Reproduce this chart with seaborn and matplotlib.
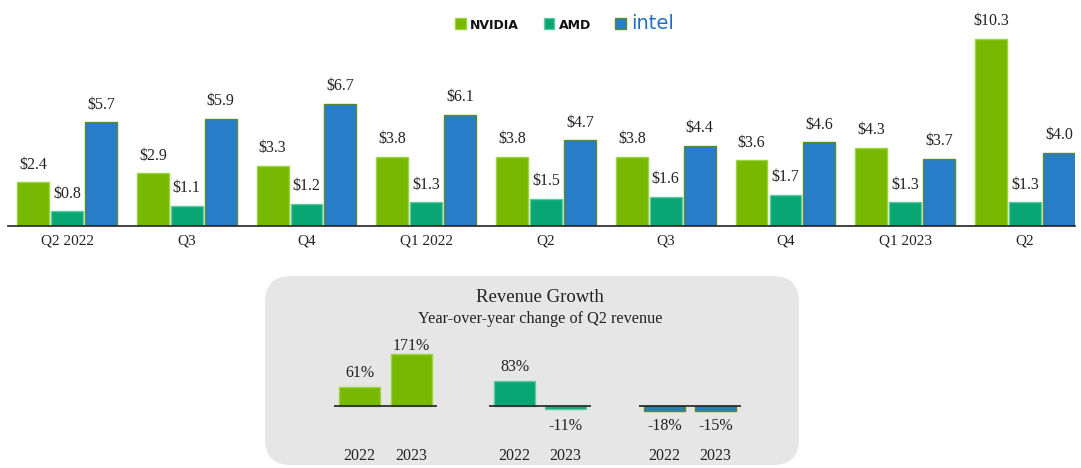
import numpy as np
import pandas as pd
import matplotlib
matplotlib.use("Agg")
import matplotlib.pyplot as plt
import seaborn as sns
from matplotlib.patches import FancyBboxPatch, Patch
from matplotlib.transforms import IdentityTransform

# ---------------- data ----------------
quarters = ["Q2 2022", "Q3", "Q4", "Q1 2022", "Q2", "Q3", "Q4", "Q1 2023", "Q2"]
nvidia = [2.4, 2.9, 3.3, 3.8, 3.8, 3.8, 3.6, 4.3, 10.3]
amd = [0.8, 1.1, 1.2, 1.3, 1.5, 1.6, 1.7, 1.3, 1.3]
intel = [5.7, 5.9, 6.7, 6.1, 4.7, 4.4, 4.6, 3.7, 4.0]
companies = ["NVIDIA", "AMD", "intel"]

growth_years = ["2022", "2023"]
growth_nvidia = [61, 171]
growth_amd = [83, -11]
growth_intel = [-18, -15]

colors = {"NVIDIA": "#76b900", "AMD": "#07a673", "intel": "#277dc8"}
edges = {"NVIDIA": "#9bd640", "AMD": "#5fc9a2", "intel": "#5a8a2a"}

sns.set_theme(style="white")
plt.rcParams["font.family"] = ["Liberation Serif", "DejaVu Serif"]

W, H = 1081, 468
fig = plt.figure(figsize=(W / 100, H / 100), dpi=100)
fig.patch.set_facecolor("white")


def px_axes(x0, y0, x1, y1):
    return fig.add_axes([x0 / W, 1 - y1 / H, (x1 - x0) / W, (y1 - y0) / H])


# ---------------- main chart ----------------
rows = []
for i, q in enumerate(quarters):
    for c, vals in zip(companies, [nvidia, amd, intel]):
        rows.append({"pos": i, "company": c, "revenue": vals[i]})
df = pd.DataFrame(rows)

ax = px_axes(8, 30, 1075, 226)
sns.barplot(data=df, x="pos", y="revenue", hue="company", hue_order=companies,
            palette=colors, width=0.85, gap=0.06, ax=ax, legend=False,
            saturation=1, errorbar=None)
for cont, c in zip(ax.containers, companies):
    for bar in cont:
        bar.set_edgecolor(edges[c])
        bar.set_linewidth(1.0)
    ax.bar_label(cont, labels=[f"${v:.1f}" for v in cont.datavalues],
                 padding=7, fontsize=11.5, color="#222222")
ax.set_xlim(-0.493, 8.418)
ax.set_ylim(0, 10.77)
ax.set_xticks(range(len(quarters)))
ax.set_xticklabels(quarters, fontsize=11, color="#222222")
ax.tick_params(axis="x", length=0, pad=6)
ax.set_yticks([])
ax.set_xlabel("")
ax.set_ylabel("")
for s in ["top", "right", "left"]:
    ax.spines[s].set_visible(False)
ax.spines["bottom"].set_color("#222222")
ax.spines["bottom"].set_linewidth(1.2)
ax.set_facecolor("none")

# legend
handles = [Patch(facecolor=colors[c], edgecolor=edges[c]) for c in companies]
leg = fig.legend(handles, companies, loc="upper center", bbox_to_anchor=(0.522, 1.0),
                 ncol=3, frameon=False, handlelength=0.7, handleheight=0.7,
                 handletextpad=0.3, columnspacing=1.6, fontsize=11)
for t, c in zip(leg.get_texts(), companies):
    if c == "intel":
        t.set_color("#1f6fc4")
        t.set_fontfamily("DejaVu Sans")
        t.set_fontsize(14)
    else:
        t.set_fontfamily("DejaVu Sans")
        t.set_fontweight("bold")
        t.set_fontsize(9)
        t.set_color("#111111")

# ---------------- inset panel ----------------
box = FancyBboxPatch((265, H - 465), 534, 189,
                     boxstyle="round,pad=0,rounding_size=26",
                     transform=IdentityTransform(), facecolor="#e6e6e6",
                     edgecolor="none", zorder=-1)
fig.add_artist(box)
fig.text(540 / W, 1 - 297 / H, "Revenue Growth", ha="center", va="center",
         fontsize=13.5, color="#222222")
fig.text(540 / W, 1 - 319 / H, "Year-over-year change of Q2 revenue",
         ha="center", va="center", fontsize=11.7, color="#222222")

pxper = 0.304
ytop = (406 - 330) / pxper
ybot = -(468 - 406) / pxper
groups = [("NVIDIA", growth_nvidia, 334, 437),
          ("AMD", growth_amd, 489, 591),
          ("intel", growth_intel, 639, 741)]
for c, vals, x0, x1 in groups:
    iax = px_axes(x0, 330, x1, 468)
    gdf = pd.DataFrame({"year": growth_years, "growth": vals})
    sns.barplot(data=gdf, x="year", y="growth", color=colors[c], width=0.8,
                ax=iax, saturation=1, errorbar=None)
    for bar in iax.patches:
        bar.set_edgecolor(edges[c])
        bar.set_linewidth(1.0)
    iax.axhline(0, color="#222222", lw=1.2)
    iax.set_xlim(-0.5, 1.5)
    iax.set_ylim(ybot, ytop)
    iax.axis("off")
    for i, v in enumerate(vals):
        if v >= 0:
            y = min(v, 150) + 14 / pxper
        else:
            y = -20 / pxper
        iax.text(i, y, f"{v}%", ha="center", va="center", fontsize=11.5,
                 color="#222222", clip_on=False)
        iax.text(i, -50 / pxper, growth_years[i], ha="center", va="center",
                 fontsize=11.5, color="#222222", clip_on=False)

fig.savefig("out.png", dpi=100)
